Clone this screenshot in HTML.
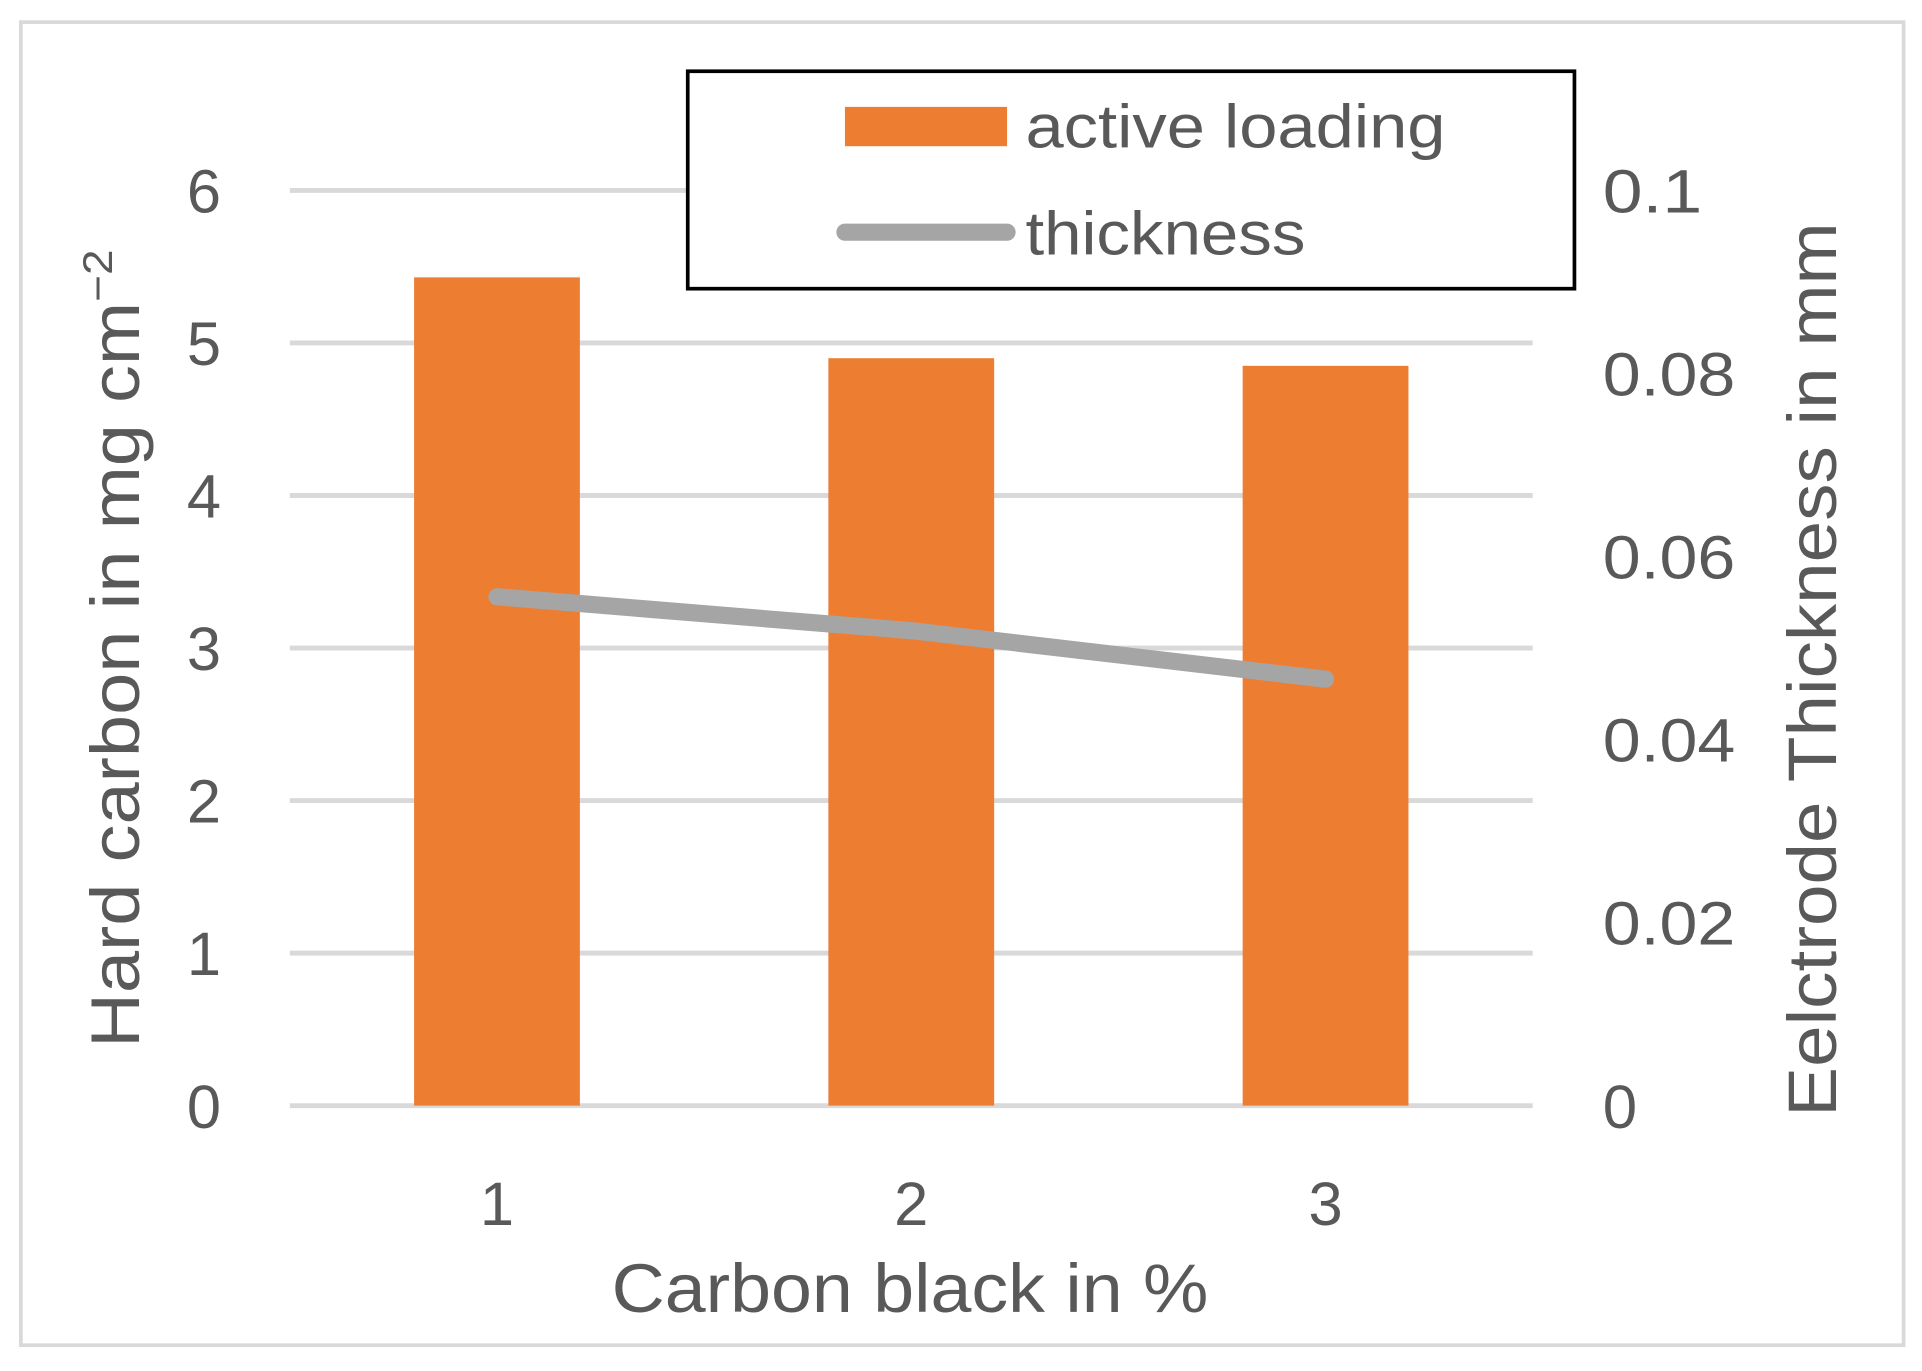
<!DOCTYPE html>
<html><head><meta charset="utf-8"><style>
html,body{margin:0;padding:0;background:#fff;}
svg{display:block;font-family:"Liberation Sans",sans-serif;}
</style></head><body>
<svg id="chart" width="1922" height="1371" viewBox="0 0 1565 1116" preserveAspectRatio="none" xmlns="http://www.w3.org/2000/svg">
<rect x="17" y="18" width="1533" height="1077" fill="#fff" stroke="#d9d9d9" stroke-width="3"/>
<g id="grid"></g>
<g id="bars"></g>
<g id="line"></g>
<g id="ticks" fill="#595959" font-size="50"></g>
<text x="741" y="1068" text-anchor="middle" font-size="56" fill="#595959" textLength="486" lengthAdjust="spacingAndGlyphs">Carbon black in %</text>
<text transform="translate(113,528) rotate(-90)" text-anchor="middle" font-size="56" fill="#595959" textLength="650" lengthAdjust="spacingAndGlyphs">Hard carbon in mg cm<tspan dy="-22" font-size="34">−2</tspan></text>
<text transform="translate(1495,545) rotate(-90)" text-anchor="middle" font-size="56" fill="#595959" textLength="728" lengthAdjust="spacingAndGlyphs">Eelctrode Thickness in mm</text>
<g>
<rect x="560" y="58" width="722" height="177" fill="#fff" stroke="#000" stroke-width="3"/>
<rect x="688" y="87" width="132" height="32" fill="#ed7d31"/>
<text x="835" y="120" font-size="50" fill="#595959" textLength="342" lengthAdjust="spacingAndGlyphs">active loading</text>
<line x1="688" y1="189" x2="820" y2="189" stroke="#a5a5a5" stroke-width="14" stroke-linecap="round"/>
<text x="835" y="207" font-size="50" fill="#595959" textLength="228" lengthAdjust="spacingAndGlyphs">thickness</text>
</g>
</svg>
<script>
const categories = ["1","2","3"];
const loading = [5.43, 4.90, 4.85];
const thickness = [0.0556, 0.0519, 0.0466];
const leftTicks = ["0","1","2","3","4","5","6"];
const rightTicks = ["0","0.02","0.04","0.06","0.08","0.1"];
const NS="http://www.w3.org/2000/svg";
const plotL=236, plotR=1248, y0=900, yTop=155;
const yL=v=>y0-(v/6)*(y0-yTop);
const yR=v=>y0-(v/0.1)*(y0-yTop);
const xC=i=>plotL+(plotR-plotL)*(i+0.5)/categories.length;
function mk(tag,attrs,parent){const e=document.createElementNS(NS,tag);for(const k in attrs)e.setAttribute(k,attrs[k]);document.getElementById(parent).appendChild(e);return e;}
leftTicks.forEach((t,i)=>{
  const v=+t;
  const g=mk('line',{x1:plotL,x2:plotR,y1:yL(v),y2:yL(v),stroke:'#d9d9d9','stroke-width':4},'grid');
  
  
  const tx=mk('text',{x:180,y:yL(v)+18,'text-anchor':'end'},'ticks');
  tx.textContent=t;
  
  
});
rightTicks.forEach(t=>{
  const tx=mk('text',{x:1305,y:yR(+t)+18,textLength:t.length>1?t.length*27:28,lengthAdjust:'spacingAndGlyphs'},'ticks');
  tx.textContent=t;
  
  
});
categories.forEach((c,i)=>{
  const tx=mk('text',{x:xC(i),y:997,'text-anchor':'middle'},'ticks');
  tx.textContent=c;
  
  
  const bw=135;
  const b=mk('rect',{x:xC(i)-bw/2,y:yL(loading[i]),width:bw,height:y0-yL(loading[i]),fill:'#ed7d31'},'bars');
  
  
});
const pts=thickness.map((v,i)=>xC(i)+','+yR(v)).join(' ');
const pl=mk('polyline',{points:pts,fill:'none',stroke:'#a5a5a5','stroke-width':14,'stroke-linecap':'round','stroke-linejoin':'round'},'line');


</script>
</body></html>
